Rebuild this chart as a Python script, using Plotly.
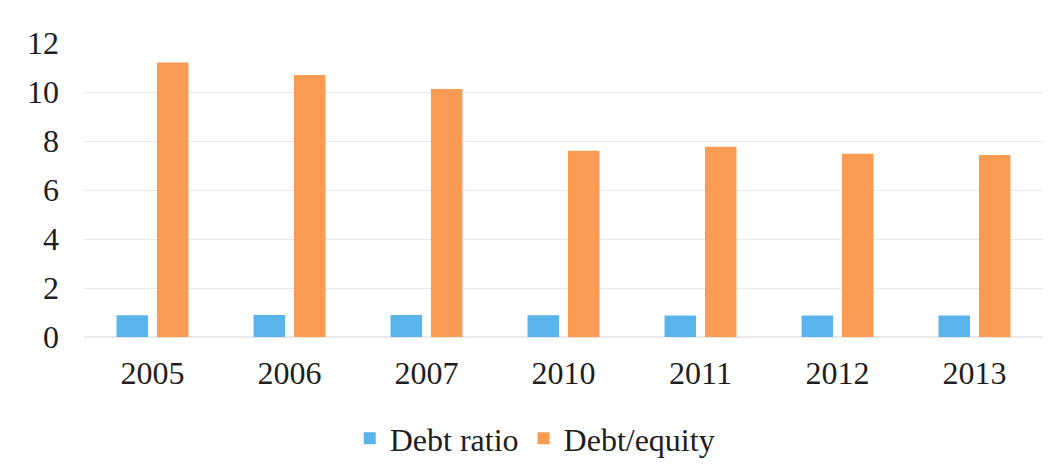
import plotly.graph_objects as go

years = ["2005", "2006", "2007", "2010", "2011", "2012", "2013"]
debt_ratio = [0.89, 0.90, 0.90, 0.89, 0.88, 0.88, 0.88]
debt_equity = [11.2, 10.69, 10.12, 7.6, 7.77, 7.48, 7.43]
y_ticks = [0, 2, 4, 6, 8, 10, 12]

BLUE = "#5AB4EC"
ORANGE = "#F99B52"
FONT = "Liberation Serif, Times New Roman, serif"
TXT = "#1E1E1E"

fig = go.Figure()
fig.add_trace(go.Bar(x=years, y=debt_ratio, name="Debt ratio", marker_color=BLUE, marker_line_width=0))
fig.add_trace(go.Bar(x=years, y=debt_equity, name="Debt/equity", marker_color=ORANGE, marker_line_width=0))

fig.update_layout(
    width=1060, height=470,
    margin=dict(l=76, r=25, t=35, b=141, autoexpand=False),
    paper_bgcolor="white", plot_bgcolor="white",
    barmode="group", bargap=0.41, bargroupgap=0.22,
    font=dict(family=FONT, size=32, color=TXT),
    showlegend=True,
    legend=dict(orientation="h", x=0.47, xanchor="center", y=-0.345, yanchor="middle",
                font=dict(family=FONT, size=32, color=TXT),
                itemwidth=30, traceorder="normal"),
    xaxis=dict(showgrid=False, showline=False, zeroline=False, ticks="", automargin=False,
               tickfont=dict(family=FONT, size=32, color=TXT),
               ticklabelstandoff=14),
    yaxis=dict(range=[0, 12], tickvals=y_ticks, showgrid=True, gridcolor="#E9E9E9",
               gridwidth=1, zeroline=True, zerolinecolor="#E9E9E9", showline=False, ticks="",
               automargin=False,
               tickfont=dict(family=FONT, size=32, color=TXT),
               ticklabelstandoff=24),
)

fig.write_html("out.html")
